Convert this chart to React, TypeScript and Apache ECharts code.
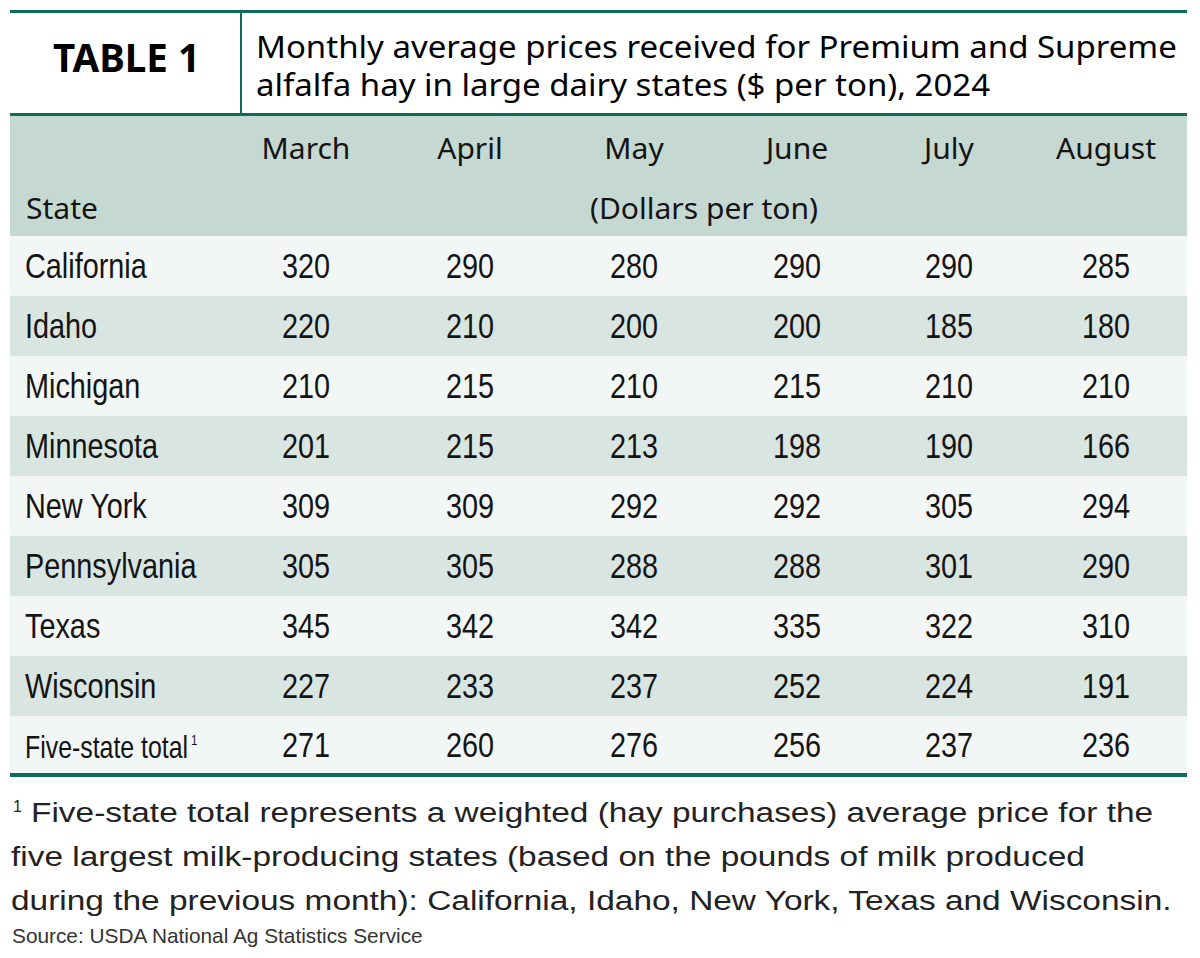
import React, { useEffect, useRef } from "react";
import * as echarts from "echarts";

// ---------- data ----------
const tableLabel = "TABLE 1";
const titleLines = [
  "Monthly average prices received for Premium and Supreme",
  "alfalfa hay in large dairy states ($ per ton), 2024",
];
const stateHeader = "State";
const unitLabel = "(Dollars per ton)";
const months = ["March", "April", "May", "June", "July", "August"];
const states = [
  "California",
  "Idaho",
  "Michigan",
  "Minnesota",
  "New York",
  "Pennsylvania",
  "Texas",
  "Wisconsin",
  "Five-state total",
];
const march = [320, 220, 210, 201, 309, 305, 345, 227, 271];
const april = [290, 210, 215, 215, 309, 305, 342, 233, 260];
const may = [280, 200, 210, 213, 292, 288, 342, 237, 276];
const june = [290, 200, 215, 198, 292, 288, 335, 252, 256];
const july = [290, 185, 210, 190, 305, 301, 322, 224, 237];
const august = [285, 180, 210, 166, 294, 290, 310, 191, 236];
const monthValues = [march, april, may, june, july, august];
const footnoteMark = "1";
const footnoteLines = [
  "Five-state total represents a weighted (hay purchases) average price for the",
  "five largest milk-producing states (based on the pounds of milk produced",
  "during the previous month): California, Idaho, New York, Texas and Wisconsin.",
];
const sourceText = "Source: USDA National Ag Statistics Service";

// ---------- layout / style ----------
const W = 1200;
const H = 958;
const LEFT = 10;
const RIGHT = 1187;
const LINE = "#0f6c5b";
const HEAD_BG = "#c5d8d1";
const ROW_LIGHT = "#f2f6f5";
const ROW_DARK = "#d9e5e1";
const INK = "#141414";
const colX = [306, 470, 634, 797, 949, 1106];
const ROW_TOP = 236;
const ROW_H = 60;
const HEAD_FONT = '"Noto Sans", "Open Sans", sans-serif';
const BODY_FONT = '"Liberation Sans", Arial, Helvetica, sans-serif';

function makeMeasure() {
  const canvas = document.createElement("canvas");
  const ctx = canvas.getContext("2d") as CanvasRenderingContext2D;
  return (text: string, font: string) => {
    ctx.font = font;
    return ctx.measureText(text).width;
  };
}

function txt(
  text: string,
  x: number,
  y: number,
  o: {
    size: number;
    family: string;
    weight?: string;
    align?: string;
    scaleX?: number;
    fill?: string;
  }
) {
  return {
    type: "text",
    x,
    y,
    scaleX: o.scaleX ?? 1,
    silent: true,
    style: {
      text,
      fill: o.fill ?? INK,
      fontSize: o.size,
      fontFamily: o.family,
      fontWeight: o.weight ?? "normal",
      align: o.align ?? "left",
      verticalAlign: "middle",
    },
  };
}

function rect(x: number, y: number, w: number, h: number, fill: string) {
  return { type: "rect", silent: true, shape: { x, y, width: w, height: h }, style: { fill } };
}

export default function App() {
  const ref = useRef<HTMLDivElement>(null);
  useEffect(() => {
    document.body.style.margin = "0";
    if (!ref.current) return;
    const chart = echarts.init(ref.current, undefined, { renderer: "svg" });
    const measure = makeMeasure();

    // font compression factors so the installed fonts take the reference widths
    const sTable = 147 / measure(tableLabel, `bold 40px Noto Sans`);
    const sTitle = 921 / measure(titleLines[0], `30px Noto Sans`);
    const sHead = 100 / measure("August", `30px Noto Sans`);
    const sBody = 133 / measure("Minnesota", `35px Liberation Sans`);
    const sTotal = 163 / measure(states[states.length - 1], `32px Liberation Sans`);
    const sFoot = 1122 / measure(footnoteLines[0], `28px Liberation Sans`);
    const sSrc = 413 / measure(sourceText, `20px Liberation Sans`);

    const els: any[] = [];
    // backgrounds
    els.push(rect(LEFT, 116, RIGHT - LEFT, ROW_TOP - 116, HEAD_BG));
    states.forEach((_, i) => {
      const top = ROW_TOP + i * ROW_H;
      const h = i === states.length - 1 ? 774 - top : ROW_H;
      els.push(rect(LEFT, top, RIGHT - LEFT, h, i % 2 === 0 ? ROW_LIGHT : ROW_DARK));
    });
    // rules
    els.push(rect(LEFT, 10, RIGHT - LEFT, 3, LINE));
    els.push(rect(240, 13, 2, 100, LINE));
    els.push(rect(LEFT, 113, RIGHT - LEFT, 3, LINE));
    els.push(rect(LEFT, 773, RIGHT - LEFT, 4, LINE));

    // title block
    els.push(txt(tableLabel, 126.5, 57, { size: 40, family: HEAD_FONT, weight: "bold", align: "center", scaleX: sTable, fill: "#000" }));
    els.push(txt(titleLines[0], 256, 46.5, { size: 30, family: HEAD_FONT, scaleX: sTitle, fill: "#000" }));
    els.push(txt(titleLines[1], 256, 84.5, { size: 30, family: HEAD_FONT, scaleX: sTitle, fill: "#000" }));

    // header
    months.forEach((m, j) => {
      els.push(txt(m, colX[j], 147.5, { size: 30, family: HEAD_FONT, align: "center", scaleX: sHead }));
    });
    els.push(txt(stateHeader, 26, 207.5, { size: 30, family: HEAD_FONT, scaleX: sHead }));
    els.push(txt(unitLabel, 704, 207.5, { size: 30, family: HEAD_FONT, align: "center", scaleX: sHead }));

    // rows
    states.forEach((s, i) => {
      const cy = ROW_TOP + i * ROW_H + 30;
      const last = i === states.length - 1;
      if (last) {
        els.push(txt(s, 25, cy + 1, { size: 32, family: BODY_FONT, scaleX: sTotal }));
        const w = measure(s, `32px Liberation Sans`) * sTotal;
        els.push(txt(footnoteMark, 25 + w + 3, 740, { size: 14, family: BODY_FONT, scaleX: sBody }));
      } else {
        els.push(txt(s, 25, cy, { size: 35, family: BODY_FONT, scaleX: sBody }));
      }
      monthValues.forEach((vals, j) => {
        els.push(txt(String(vals[i]), colX[j], last ? cy - 1 : cy, { size: 35, family: BODY_FONT, align: "center", scaleX: sBody }));
      });
    });

    // footnote
    els.push(txt(footnoteMark, 13, 806, { size: 16, family: BODY_FONT, fill: "#222" }));
    const footY = [812, 856, 900];
    footnoteLines.forEach((l, k) => {
      els.push(txt(l, k === 0 ? 31 : 11, footY[k], { size: 28, family: BODY_FONT, scaleX: sFoot, fill: "#222" }));
    });
    els.push(txt(sourceText, 12, 936, { size: 20, family: BODY_FONT, scaleX: sSrc, fill: "#333" }));

    chart.setOption({
      animation: false,
      backgroundColor: "#ffffff",
      graphic: { elements: els },
    });
    return () => chart.dispose();
  }, []);
  return <div ref={ref} style={{ width: W, height: H }} />;
}
